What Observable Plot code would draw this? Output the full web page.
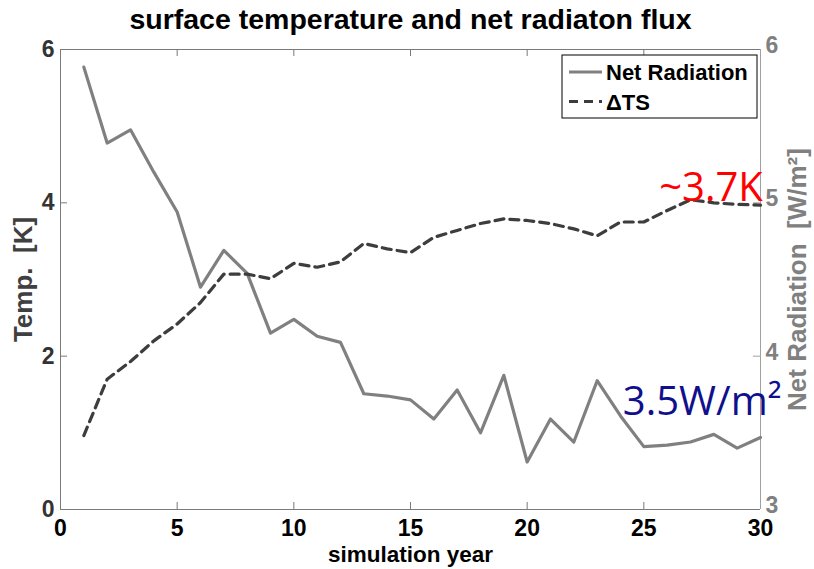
<!DOCTYPE html>
<html>
<head>
<meta charset="utf-8">
<script src="https://cdn.jsdelivr.net/npm/d3@7"></script>
<script src="https://cdn.jsdelivr.net/npm/@observablehq/plot@0.6"></script>
<style>
  html, body { margin: 0; padding: 0; background: #fff; }
  #chart svg { display: block; }
</style>
</head>
<body>
<div id="chart"></div>
<script>
// ---- data ----
const years = [1,2,3,4,5,6,7,8,9,10,11,12,13,14,15,16,17,18,19,20,21,22,23,24,25,26,27,28,29,30];
const netRadiation = [5.885,5.39,5.476,5.2,4.94,4.45,4.69,4.54,4.15,4.24,4.13,4.09,3.755,3.74,3.715,3.59,3.78,3.50,3.875,3.31,3.59,3.44,3.84,3.61,3.41,3.42,3.44,3.49,3.40,3.47];
const deltaTS = [0.965,1.70,1.93,2.2,2.42,2.70,3.07,3.07,3.01,3.21,3.16,3.23,3.47,3.40,3.35,3.55,3.64,3.73,3.79,3.77,3.73,3.66,3.57,3.75,3.75,3.90,4.04,4.00,3.98,3.97];
const xTicks = [0,5,10,15,20,25,30];
const leftTicks = [0,2,4,6];
const rightTicks = [3,4,5,6];
const seriesNames = ["Net Radiation", "\u0394TS"];
const titleText = "surface temperature and net radiaton flux";
const xLabel = "simulation year";
const leftLabel = "Temp.  [K]";
const rightLabel = "Net Radiation  [W/m\u00B2]";
const annoTemp = [{x: 30.1, y: 4.03, text: "~3.7K"}];
const annoRad = [{x: 24.1, y: 1.23, text: "3.5W/m\u00B2"}];

// right axis (3..6) mapped onto left axis (0..6)
const toLeft = v => (v - 3) * 2;
const fromLeft = v => v / 2 + 3;

const data = years.map((yr, i) => ({year: yr, net: netRadiation[i], ts: deltaTS[i]}));

const W = 814, H = 569;
const mL = 60, mR = 54, mT = 49, mB = 60;
const fw = W - mL - mR, fh = H - mT - mB;
const tk = 7;
const font = "'Liberation Sans', Arial, Helvetica, sans-serif";
const annoFont = "'Open Sans', 'Noto Sans', sans-serif";

const chart = Plot.plot({
  width: W, height: H,
  marginLeft: mL, marginRight: mR, marginTop: mT, marginBottom: mB,
  style: {fontFamily: font, background: "#fff", overflow: "visible"},
  x: {domain: [0, 30], axis: null},
  y: {domain: [0, 6], axis: null},
  marks: [
    // inward ticks
    Plot.tickX(xTicks, {x: d => d, insetTop: fh - tk, stroke: "#7a7a7a"}),
    Plot.tickX(xTicks, {x: d => d, insetBottom: fh - tk, stroke: "#7a7a7a"}),
    Plot.tickY(leftTicks, {y: d => d, insetRight: fw - tk, stroke: "#7a7a7a"}),
    Plot.tickY(rightTicks.map(toLeft), {y: d => d, insetLeft: fw - tk, stroke: "#a0a0a0"}),
    // frame
    Plot.ruleY([6], {stroke: "#7a7a7a"}),
    Plot.ruleY([0], {stroke: "#7a7a7a"}),
    Plot.ruleX([0], {stroke: "#7a7a7a"}),
    Plot.ruleX([30], {stroke: "#a0a0a0"}),
    // axes
    Plot.axisX({ticks: xTicks, tickSize: 0, tickPadding: 10, fontSize: 23, fontWeight: "bold", fill: "#000", label: null, tickFormat: d => String(d)}),
    Plot.axisY({ticks: leftTicks, tickSize: 0, tickPadding: 6, fontSize: 23, fontWeight: "bold", fill: "#333", label: null, tickFormat: d => String(d)}),
    Plot.axisY({anchor: "right", ticks: rightTicks.map(toLeft), tickFormat: d => String(fromLeft(d)), tickSize: 0, tickPadding: 5, dy: -4, fontSize: 23, fontWeight: "bold", fill: "#808080", label: null}),
    // axis labels & title
    Plot.text([xLabel], {frameAnchor: "bottom", textAnchor: "middle", lineAnchor: "bottom", dy: 52, fontSize: 22.5, fontWeight: "bold", fill: "#000"}),
    Plot.text([leftLabel], {frameAnchor: "left", textAnchor: "middle", rotate: -90, dx: -37, fontSize: 26, fontWeight: "bold", fill: "#404040"}),
    Plot.text([rightLabel], {frameAnchor: "right", textAnchor: "middle", rotate: -90, dx: 37, fontSize: 26, fontWeight: "bold", fill: "#808080"}),
    Plot.text([titleText], {frameAnchor: "top", textAnchor: "middle", lineAnchor: "bottom", dy: -21, fontSize: 28.5, fontWeight: "bold", fill: "#000"}),
    // series
    Plot.line(data, {x: "year", y: d => toLeft(d.net), stroke: "#808080", strokeWidth: 3.2}),
    Plot.line(data, {x: "year", y: "ts", stroke: "#3d3d3d", strokeWidth: 3.2, strokeDasharray: "9,6"}),
    // annotations
    Plot.text(annoTemp, {x: "x", y: "y", text: "text", fill: "#ff0000", textAnchor: "end", lineAnchor: "bottom", fontSize: 40, fontFamily: annoFont}),
    Plot.text(annoRad, {x: "x", y: "y", text: "text", fill: "#10108c", textAnchor: "start", lineAnchor: "bottom", fontSize: 40, fontFamily: annoFont})
  ]
});

// legend drawn inside the plot frame (top-right)
const svg = d3.select(chart);
const lg = svg.append("g").attr("transform", `translate(${562},${55})`).attr("text-anchor", "start");
lg.append("rect").attr("width", 195).attr("height", 63).attr("fill", "#fff").attr("stroke", "#000").attr("stroke-width", 1);
const styles = [
  {stroke: "#808080", dash: null},
  {stroke: "#3d3d3d", dash: "9,6"}
];
seriesNames.forEach((name, i) => {
  const yy = 17 + i * 29.5;
  lg.append("line").attr("x1", 7).attr("x2", 40).attr("y1", yy).attr("y2", yy)
    .attr("stroke", styles[i].stroke).attr("stroke-width", 3)
    .attr("stroke-dasharray", styles[i].dash);
  lg.append("text").attr("x", 44).attr("y", yy + 8).text(name)
    .attr("text-anchor", "start")
    .attr("font-family", font).attr("font-weight", "bold").attr("font-size", 22).attr("fill", "#000");
});

document.getElementById("chart").appendChild(chart);
</script>
</body>
</html>
